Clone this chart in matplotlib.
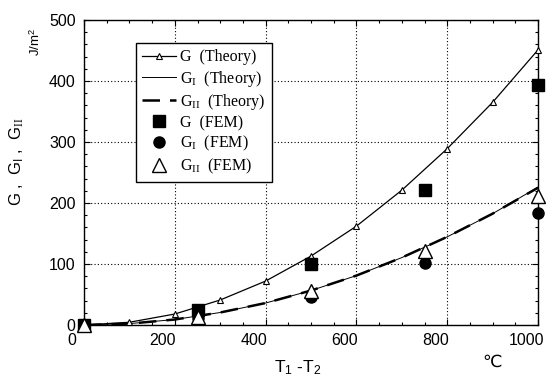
import matplotlib
matplotlib.use("Agg")
import matplotlib.pyplot as plt
from matplotlib.ticker import MultipleLocator
import matplotlib.transforms as mtransforms

plt.rcParams['mathtext.fontset'] = 'custom'
plt.rcParams['mathtext.rm'] = 'Liberation Serif'
plt.rcParams['mathtext.sf'] = 'Liberation Sans'
plt.rcParams['mathtext.it'] = 'Liberation Serif:italic'
plt.rcParams['font.family'] = ['Liberation Sans', 'DejaVu Sans']

# Theory curves (T1-T2 in degC)
T_theory = [0, 100, 200, 300, 400, 500, 600, 700, 800, 900, 1000]
G_theory = [0, 4.5, 18, 41, 72, 113, 162, 221, 289, 365, 451]
GI_theory = [0, 2.3, 9, 20.5, 36, 56.5, 81, 110.5, 144.5, 182.5, 226]
GII_theory = [0, 2.2, 9, 20.5, 36, 56.5, 81, 110.5, 144.5, 182.5, 225]

# FEM results
T_fem = [0, 250, 500, 750, 1000]
G_fem = [0, 25, 100, 222, 393]
GI_fem = [0, 12, 46, 101, 183]
GII_fem = [0, 13, 56, 121, 211]

x_ticks = [0, 200, 400, 600, 800, 1000]
y_ticks = [0, 100, 200, 300, 400, 500]

fig = plt.figure(figsize=(5.47, 3.80), dpi=100)
ax = fig.add_axes([84/547, 1-325/380, (538-84)/547, (325-20)/380])

serif = 'Liberation Serif'

ax.plot(T_theory, G_theory, '-', color='black', lw=0.9, marker='^', ms=4.5,
        mfc='white', mec='black', mew=0.8, label='G  (Theory)', clip_on=False, zorder=3)
ax.plot(T_theory, GI_theory, '-', color='black', lw=0.7,
        label=r'G$_{\mathrm{I}}$  (Theory)', zorder=2)
ax.plot(T_theory, GII_theory, color='black', lw=1.8, dashes=(7, 4),
        label=r'G$_{\mathrm{II}}$  (Theory)', zorder=2)
ax.plot(T_fem, G_fem, 's', color='black', ms=8.5, label='G  (FEM)', clip_on=False, zorder=4)
ax.plot(T_fem, GI_fem, 'o', color='black', ms=8, label=r'G$_{\mathrm{I}}$  (FEM)', clip_on=False, zorder=4)
ax.plot(T_fem, GII_fem, '^', color='black', ms=9.5, mfc='white', mec='black', mew=1.0,
        label=r'G$_{\mathrm{II}}$  (FEM)', clip_on=False, zorder=5)

ax.set_xlim(0, 1000)
ax.set_ylim(0, 500)
ax.set_xticks(x_ticks)
ax.set_yticks(y_ticks)
ax.xaxis.set_minor_locator(MultipleLocator(50))
ax.yaxis.set_minor_locator(MultipleLocator(20))
ax.tick_params(which='both', direction='in', top=True, right=True, width=0.8)
ax.tick_params(which='major', length=4, labelsize=11.5, pad=6)
ax.tick_params(which='minor', length=2.5)
for s in ax.spines.values():
    s.set_linewidth(1.0)

ax.grid(True, which='major', linestyle=(0, (1, 2)), color='black', lw=0.8)

# shift x tick labels slightly left as in reference
offset = mtransforms.ScaledTranslation(-12/100, 0, fig.dpi_scale_trans)
for lab in ax.get_xticklabels():
    lab.set_transform(lab.get_transform() + offset)

leg = ax.legend(loc='upper left', bbox_to_anchor=((136-84)/454, (325-43)/305),
                borderaxespad=0, frameon=True, fancybox=False, edgecolor='black',
                prop={'family': serif, 'size': 11.5}, handlelength=2.1,
                handletextpad=0.25, labelspacing=0.2, borderpad=0.4, framealpha=1)
leg.get_frame().set_linewidth(1.0)

fig.text(17/547, 1-162/380, r'G ,  G$_{\mathsf{I}}$ ,  G$_{\mathrm{II}}$', rotation=90,
         ha='center', va='center', fontsize=12)
fig.text(36/547, 1-42/380, r'J/m$^{\mathsf{2}}$', rotation=90, ha='center', va='center', fontsize=9.5)
fig.text(298/547, 1-368/380, r'T$_{\mathsf{1}}$ -T$_{\mathsf{2}}$', ha='center', va='center', fontsize=12.5)
fig.text(492/547, 1-362/380, '℃', ha='center', va='center', fontsize=12.5,
         family=['DejaVu Sans'])

fig.savefig('out.png', dpi=100)
